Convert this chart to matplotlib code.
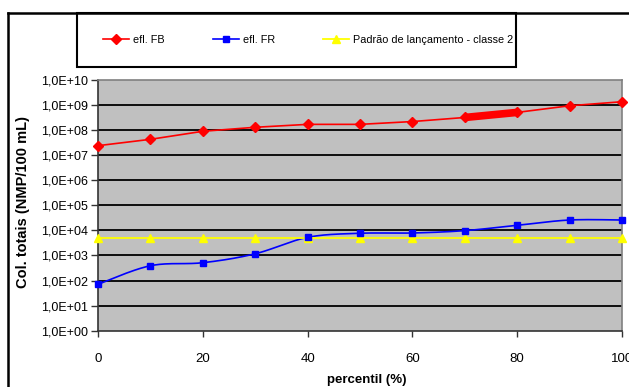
import numpy as np
import matplotlib
matplotlib.use("Agg")
import matplotlib.pyplot as plt
from matplotlib.lines import Line2D
from matplotlib.patches import Rectangle

plt.rcParams['font.family'] = ['Liberation Sans', 'DejaVu Sans']

percentil = [0, 10, 20, 30, 40, 50, 60, 70, 80, 90, 100]
efl_fb = [2.4e7, 4.3e7, 9.0e7, 1.3e8, 1.7e8, 1.7e8, 2.2e8, 3.2e8, 5.1e8, 9.4e8, 1.36e9]
efl_fr = [71, 390, 515, 1170, 5300, 7700, 7900, 9800, 1.6e4, 2.6e4, 2.6e4]
padrao = [5000] * 11
labels = ["efl. FB", "efl. FR", "Padrão de lançamento - classe 2"]
xlabel = "percentil (%)"
ylabel = "Col. totais (NMP/100 mL)"
xticks = [0, 20, 40, 60, 80, 100]
yexp = list(range(0, 11))

W, H = 629, 387
fig = plt.figure(figsize=(W / 100, H / 100), dpi=100)
fig.patch.set_facecolor('white')

def fx(px):
    return px / W

def fy(py):
    return 1 - py / H

left, right, top, bottom = 98, 622, 80, 330.7
ax = fig.add_axes([fx(left), fy(bottom), (right - left) / W, (bottom - top) / H])
ax.set_facecolor('#C0C0C0')
ax.set_yscale('log')
ax.set_xlim(0, 100)
ax.set_ylim(1, 1e10)

# gridlines
for e in yexp[1:-1]:
    ax.axhline(10.0 ** e, color='black', lw=1.3, zorder=1)

# red line
ax.plot(percentil, efl_fb, color='#FF0000', lw=1.2, marker='D', ms=5,
        mec='#FF0000', mfc='#FF0000', zorder=4, clip_on=False)
# thick artifact segment between 70 and 80
ax.plot(percentil[7:9], efl_fb[7:9], color='#FF0000', lw=5.5, zorder=4,
        solid_capstyle='butt')

# blue smoothed line (Bezier through points, in pixel-like space)
sx, sy = 5.24, 25.07
P = np.column_stack([np.array(percentil) * sx, np.log10(efl_fr) * sy])
n = len(P)
curve = []
for i in range(n - 1):
    p0 = P[max(i - 1, 0)]
    p1 = P[i]
    p2 = P[i + 1]
    p3 = P[min(i + 2, n - 1)]
    c1 = p1 + (p2 - p0) / 6
    c2 = p2 - (p3 - p1) / 6
    t = np.linspace(0, 1, 30)[:, None]
    seg = ((1 - t) ** 3) * p1 + 3 * ((1 - t) ** 2) * t * c1 + 3 * (1 - t) * t ** 2 * c2 + t ** 3 * p2
    curve.append(seg if i == 0 else seg[1:])
curve = np.vstack(curve)
ax.plot(curve[:, 0] / sx, 10 ** (curve[:, 1] / sy), color='#0000FF', lw=1.2, zorder=3)
ax.plot(percentil, efl_fr, ls='none', marker='s', ms=4.5, color='#0000FF', zorder=5, clip_on=False)

# yellow
ax.plot(percentil, padrao, color='#FFFF00', lw=1.3, marker='^', ms=6, zorder=3, clip_on=False)

ax.set_xticks(xticks)
ax.set_xticklabels([str(v) for v in xticks], fontsize=9.5)
ax.set_yticks([10.0 ** e for e in yexp])
ax.set_yticklabels(["1,0E+%02d" % e for e in yexp], fontsize=9)
ax.yaxis.set_minor_locator(matplotlib.ticker.NullLocator())
ax.tick_params(axis='y', direction='out', length=5, width=1, pad=2, color='#333333')
ax.tick_params(axis='x', direction='out', length=4, width=1, pad=12, color='#333333')

for s in ['top', 'right']:
    ax.spines[s].set_color('#808080')
    ax.spines[s].set_linewidth(1.2)
for s in ['left', 'bottom']:
    ax.spines[s].set_color('#333333')
    ax.spines[s].set_linewidth(1.2)

fig.text(fx(367), fy(380), xlabel, ha='center', va='center', fontsize=9.5, fontweight='bold')
fig.text(fx(23), fy(202), ylabel, ha='center', va='center', rotation=90, fontsize=10.5, fontweight='bold')

# outer frame
fig.add_artist(Line2D([fx(8), fx(8)], [fy(13), 0], color='black', lw=1.8))
fig.add_artist(Line2D([fx(8), 1], [fy(13), fy(13)], color='black', lw=1.8))

# legend box
fig.add_artist(Rectangle((fx(77), fy(67)), (516 - 77) / W, (67 - 13) / H,
                         transform=fig.transFigure, fill=True, facecolor='white',
                         edgecolor='black', lw=1.5))
handles = [
    Line2D([], [], color='#FF0000', lw=1.2, marker='D', ms=5),
    Line2D([], [], color='#0000FF', lw=1.2, marker='s', ms=4.5),
    Line2D([], [], color='#FFFF00', lw=1.3, marker='^', ms=6),
]
leg = fig.legend(handles, labels, loc='center left', bbox_to_anchor=(fx(103), fy(40)),
                 ncol=3, frameon=False, fontsize=7.8, borderpad=0, borderaxespad=0,
                 handlelength=2.4, handletextpad=0.4, columnspacing=4.4)

fig.savefig('out.png', dpi=100)
